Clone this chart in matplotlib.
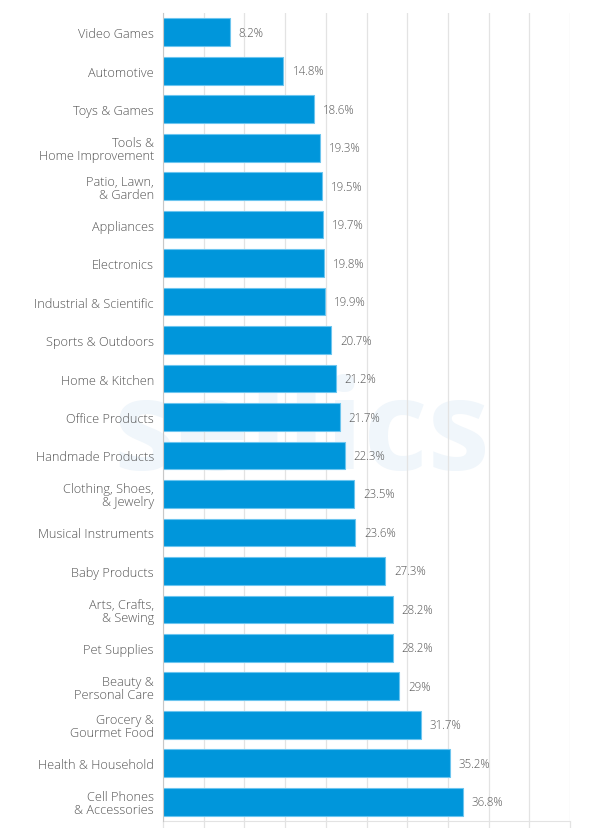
import matplotlib.pyplot as plt

# data (top to bottom)
categories = [
    "Video Games", "Automotive", "Toys & Games", "Tools &\nHome Improvement",
    "Patio, Lawn,\n& Garden", "Appliances", "Electronics", "Industrial & Scientific",
    "Sports & Outdoors", "Home & Kitchen", "Office Products", "Handmade Products",
    "Clothing, Shoes,\n& Jewelry", "Musical Instruments", "Baby Products",
    "Arts, Crafts,\n& Sewing", "Pet Supplies", "Beauty &\nPersonal Care",
    "Grocery &\nGourmet Food", "Health & Household", "Cell Phones\n& Accessories",
]
values = [8.2, 14.8, 18.6, 19.3, 19.5, 19.7, 19.8, 19.9, 20.7, 21.2, 21.7,
          22.3, 23.5, 23.6, 27.3, 28.2, 28.2, 29, 31.7, 35.2, 36.8]
value_labels = ["8.2%", "14.8%", "18.6%", "19.3%", "19.5%", "19.7%", "19.8%",
                "19.9%", "20.7%", "21.2%", "21.7%", "22.3%", "23.5%", "23.6%",
                "27.3%", "28.2%", "28.2%", "29%", "31.7%", "35.2%", "36.8%"]
grid_ticks = [0, 5, 10, 15, 20, 25, 30, 35, 40, 45, 50]

plt.rcParams["font.family"] = ["Open Sans", "DejaVu Sans"]

fig = plt.figure(figsize=(5.89, 8.29), dpi=100)
ax = fig.add_axes([163 / 589, 7 / 829, (570 - 163) / 589, 808 / 829])

ypos = list(range(len(categories)))

# faint watermark behind the bars
ax.text(17.1, 11.36, "sellics", fontsize=90, fontweight="bold", color="#f0f6fb",
        ha="center", va="baseline", zorder=0)

ax.barh(ypos, values, height=0.72, color="#0096db", edgecolor="#6cc5ef",
        linewidth=0.8, zorder=3)

for y, v, lab in zip(ypos, values, value_labels):
    ax.text(v + 1.1, y, lab, va="center", ha="left", fontsize=8.3,
            color="#555555", fontweight="light", zorder=4)

ax.set_ylim(len(categories) - 0.5, -0.5)
ax.set_xlim(0, 50)
ax.set_yticks(ypos)
ax.set_yticklabels(categories, fontsize=9.2, color="#555555",
                   fontweight="light", linespacing=1.0)
ax.set_xticks(grid_ticks)
ax.set_xticklabels([])
ax.tick_params(axis="y", length=0, pad=6.5)
ax.tick_params(axis="x", length=6, width=0.9, color="#e3e3e3", direction="out")
ax.grid(axis="x", color="#e3e3e3", linewidth=0.9, zorder=1)

for s in ["top", "right"]:
    ax.spines[s].set_visible(False)
ax.spines["bottom"].set_color("#e3e3e3")
ax.spines["left"].set_color("#c8c8c8")
ax.spines["left"].set_zorder(5)

fig.savefig("out.png", dpi=100, facecolor="white")
